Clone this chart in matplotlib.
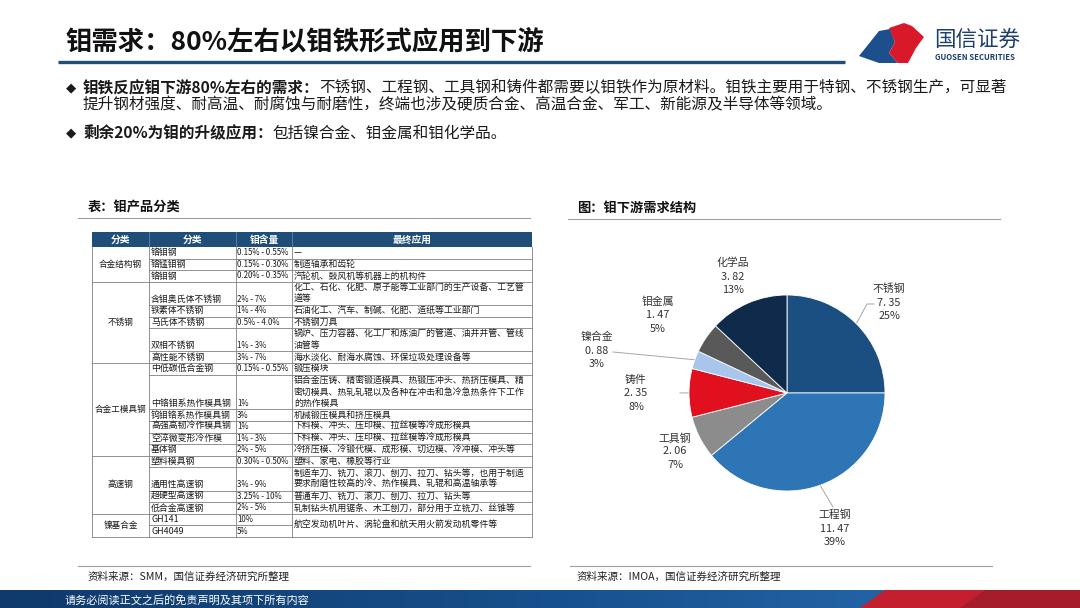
import matplotlib.pyplot as plt
import numpy as np
from matplotlib.patches import Rectangle, Polygon
from matplotlib.colors import LinearSegmentedColormap

plt.rcParams['font.family'] = ['Noto Sans CJK SC', 'DejaVu Sans']

# ---- data ----
title = "钼需求：80%左右以钼铁形式应用到下游"
bullet1_bold = "钼铁反应钼下游80%左右的需求："
bullet1_line1 = "不锈钢、工程钢、工具钢和铸件都需要以钼铁作为原材料。钼铁主要用于特钢、不锈钢生产，可显著"
bullet1_line2 = "提升钢材强度、耐高温、耐腐蚀与耐磨性，终端也涉及硬质合金、高温合金、军工、新能源及半导体等领域。"
bullet2_bold = "剩余20%为钼的升级应用："
bullet2_text = "包括镍合金、钼金属和钼化学品。"

header = ["分类", "分类", "钼含量", "最终应用"]
groups = ["合金结构钢", "不锈钢", "合金工模具钢", "高速钢", "镍基合金"]
group_sizes = [3, 5, 6, 4, 2]
products = ["铬钼钢", "铬锰钼钢", "铬钼钢",
            "含钼奥氏体不锈钢", "铁素体不锈钢", "马氏体不锈钢", "双相不锈钢", "高性能不锈钢",
            "中低碳低合金钢", "中铬钼系热作模具钢", "钨钼铬系热作模具钢", "高强高韧冷作模具钢", "空淬微变形冷作模", "基体钢",
            "塑料模具钢", "通用性高速钢", "超硬型高速钢", "低合金高速钢",
            "GH141", "GH4049"]
mo_content = ["0.15% - 0.55%", "0.15% - 0.30%", "0.20% - 0.35%",
              "2% - 7%", "1% - 4%", "0.5% - 4.0%", "1% - 3%", "3% - 7%",
              "0.15% - 0.55%", "1%", "3%", "1%", "1% - 3%", "2% - 5%",
              "0.30% - 0.50%", "3% - 9%", "3.25% - 10%", "2% - 5%",
              "10%", "5%"]
applications = ["—", "制造轴承和齿轮", "汽轮机、鼓风机等机器上的机构件",
                "化工、石化、化肥、原子能等工业部门的生产设备、工艺管\n道等",
                "石油化工、汽车、制碱、化肥、造纸等工业部门",
                "不锈钢刀具",
                "锅炉、压力容器、化工厂和炼油厂的管道、油井井管、管线\n油管等",
                "海水淡化、耐海水腐蚀、环保垃圾处理设备等",
                "锻压模块",
                "铝合金压铸、精密锻造模具、热锻压冲头、热挤压模具、精\n密切模具、热轧轧辊以及各种在冲击和急冷急热条件下工作\n的热作模具",
                "机械锻压模具和挤压模具",
                "下料模、冲头、压印模、拉丝模等冷成形模具",
                "下料模、冲头、压印模、拉丝模等冷成形模具",
                "冷挤压模、冷锻代模、成形模、切边模、冷冲模、冲头等",
                "塑料、家电、橡胶等行业",
                "制造车刀、铣刀、滚刀、刨刀、拉刀、钻头等，也用于制造\n要求耐磨性较高的冷、热作模具、轧辊和高温轴承等",
                "普通车刀、铣刀、滚刀、刨刀、拉刀、钻头等",
                "轧制钻头机用锯条、木工刨刀，部分用于立铣刀、丝锥等"]
merged_application = "航空发动机叶片、涡轮盘和航天用火箭发动机零件等"

pie_names = ["不锈钢", "工程钢", "工具钢", "铸件", "镍合金", "钼金属", "化学品"]
pie_values = [7.35, 11.47, 2.06, 2.35, 0.88, 1.47, 3.82]
pie_colors = ["#1b4f82", "#2e75b6", "#8c8c8c", "#e0101e", "#a8c6ec", "#595959", "#0f2a4a"]

# ---- canvas in pixel coordinates ----
W, H = 1080, 608
fig = plt.figure(figsize=(10.8, 6.08), dpi=100)
ax = fig.add_axes([0, 0, 1, 1])
ax.set_xlim(0, W)
ax.set_ylim(H, 0)
ax.axis('off')
rend = fig.canvas.get_renderer()

# title + logo
ax.text(65, 42, title, fontsize=19, fontweight='bold', color='#111111', va='center', ha='left')
ax.plot([58, 845], [62, 62], color='#1f4e79', lw=2.4, solid_capstyle='butt')
ax.add_patch(Polygon([(859, 56), (879, 31), (890, 29), (895, 42), (889, 53), (898, 63), (879, 63)],
                     closed=True, color='#1d4f8c', lw=0))
ax.add_patch(Polygon([(889, 28), (904, 23), (912, 26), (924, 37), (916, 48), (908, 63), (898, 63),
                      (889, 53), (895, 42)], closed=True, color='#d7192a', lw=0))
ax.text(934, 40, "国信证券", fontsize=15.5, color='#1d3f6e', va='center', ha='left')
ax.text(935, 57, "GUOSEN SECURITIES", fontsize=5.6, fontweight='bold', color='#1d3f6e', va='center', ha='left')


def rich(x, y, parts, size):
    for txt, weight in parts:
        t = ax.text(x, y, txt, fontsize=size, fontweight=weight, color='#1a1a1a', va='center', ha='left')
        x += t.get_window_extent(renderer=rend).width


# bullets
bfs = 11.25
ax.text(71, 88, "◆", fontsize=9.5, color='#1a1a1a', va='center', ha='center', family='DejaVu Sans')
rich(83, 88, [(bullet1_bold, 'bold'), (bullet1_line1, 'normal')], bfs)
ax.text(83, 105, bullet1_line2, fontsize=bfs, color='#1a1a1a', va='center', ha='left')
ax.text(71, 133, "◆", fontsize=9.5, color='#1a1a1a', va='center', ha='center', family='DejaVu Sans')
rich(83, 133, [(bullet2_bold, 'bold'), (bullet2_text, 'normal')], bfs)

# section headings
ax.text(88, 207, "表：钼产品分类", fontsize=9.5, fontweight='bold', color='#111111', va='center')
ax.plot([78, 530], [218, 218], color='#a0a0a0', lw=0.8)
ax.text(577, 208, "图：钼下游需求结构", fontsize=9.5, fontweight='bold', color='#111111', va='center')
ax.plot([568, 1000], [219, 219], color='#a0a0a0', lw=0.8)

# ---- table ----
cols = [92, 149, 236, 292, 532]
top, hdr_bot, bot = 232, 247, 537
fs = 6.4
tc = '#1a1a1a'
ax.add_patch(Rectangle((cols[0], top), cols[-1] - cols[0], hdr_bot - top, color='#1f4e79', lw=0))
for i, h in enumerate(header):
    ax.text((cols[i] + cols[i + 1]) / 2, (top + hdr_bot) / 2, h, fontsize=7, fontweight='bold',
            color='white', va='center', ha='center')
for c in cols[1:-1]:
    ax.plot([c, c], [top, hdr_bot], color='#6f8fb5', lw=0.5)

nlines = [a.count("\n") + 1 for a in applications] + [1, 1]
unit = (bot - hdr_bot) / sum(nlines)
edges = hdr_bot + unit * np.concatenate([[0], np.cumsum(nlines)])
gc = '#808080'
for c in cols:
    ax.plot([c, c], [hdr_bot, bot], color=gc, lw=0.6)

group_starts = np.concatenate([[0], np.cumsum(group_sizes)])
for r in range(len(products)):
    y0, y1 = edges[r], edges[r + 1]
    ax.text(cols[1] + 2, y1 - unit / 2, products[r], fontsize=fs, color=tc, va='center', ha='left')
    ax.text(cols[2] + 1, y1 - unit / 2, mo_content[r], fontsize=5.7, color=tc, va='center', ha='left')
    if r < len(applications):
        for k, line in enumerate(applications[r].split("\n")):
            ax.text(cols[3] + 2, y0 + unit * (k + 0.5), line, fontsize=fs, color=tc,
                    va='center', ha='left')
    # row separator
    if r + 1 in group_starts:
        ax.plot([cols[0], cols[-1]], [y1, y1], color=gc, lw=0.6)
    elif r == len(products) - 2:
        ax.plot([cols[1], cols[3]], [y1, y1], color=gc, lw=0.6)
    else:
        ax.plot([cols[1], cols[-1]], [y1, y1], color=gc, lw=0.6)

for g, name in enumerate(groups):
    ya, yb = edges[group_starts[g]], edges[group_starts[g + 1]]
    ax.text((cols[0] + cols[1]) / 2, (ya + yb) / 2, name, fontsize=6.2, color=tc,
            va='center', ha='center')
ax.text(cols[3] + 2, (edges[-3] + edges[-1]) / 2, merged_application, fontsize=fs, color=tc,
        va='center', ha='left')

# ---- pie ----
cx, cy, R = 787, 393, 98
side = 2 * R * 1.25
pax = fig.add_axes([(cx - side / 2) / W, (H - cy - side / 2) / H, side / W, side / H])
pax.pie(pie_values, colors=pie_colors, startangle=90, counterclock=False,
        wedgeprops=dict(edgecolor='white', linewidth=0.6))
pax.set_xlim(-1.25, 1.25)
pax.set_ylim(-1.25, 1.25)
pax.axis('off')

total = sum(pie_values)
label_pos = {"不锈钢": (889, 289), "工程钢": (835, 515), "工具钢": (675, 438), "铸件": (636, 380),
             "镍合金": (597, 337), "钼金属": (658, 302), "化学品": (733, 263)}
leaders = {"不锈钢": [(867, 304), (874, 304)], "工程钢": [(833, 507)], "铸件": [(680, 393)],
           "镍合金": [(613, 352)]}
cum = 0
for name, v in zip(pie_names, pie_values):
    mid = 90 - (cum + v / 2) / total * 360
    cum += v
    lx, ly = label_pos[name]
    for k, s in enumerate([name, f"{v:.2f}".replace(".", ". "), f"{round(v / total * 100):.0f}%"]):
        ax.text(lx, ly + k * 13.5, s, fontsize=7.8, color='#333333', va='center', ha='center')
    if name in leaders:
        ex = cx + R * np.cos(np.radians(mid))
        ey = cy - R * np.sin(np.radians(mid))
        pts = [(ex, ey)] + leaders[name]
        ax.plot([p[0] for p in pts], [p[1] for p in pts], color='#a6a6a6', lw=0.7)

# ---- sources ----
ax.plot([78, 530], [566, 566], color='#a0a0a0', lw=0.8)
ax.plot([570, 992], [566, 566], color='#a0a0a0', lw=0.8)
ax.text(88, 577, "资料来源：SMM，国信证券经济研究所整理", fontsize=7.6, color='#222222', va='center')
ax.text(577, 577, "资料来源：IMOA，国信证券经济研究所整理", fontsize=7.6, color='#222222', va='center')

# ---- footer bar ----
grad = np.linspace(0, 1, 256).reshape(1, -1)
cmap = LinearSegmentedColormap.from_list('bar', ['#0f3a6a', '#17508c', '#2a6db3'])
ax.imshow(grad, cmap=cmap, extent=[0, W, H, 590], aspect='auto', zorder=0)
ax.add_patch(Polygon([(860, H), (885, 590), (W, 590), (W, H)], closed=True, color='#c41f2e', lw=0))
ax.add_patch(Polygon([(960, H), (985, 590), (W, 590), (W, H)], closed=True, color='#a51c2a', lw=0))
ax.set_xlim(0, W)
ax.set_ylim(H, 0)
ax.text(65, 600, "请务必阅读正文之后的免责声明及其项下所有内容", fontsize=8, color='white', va='center')

fig.savefig("out.png", dpi=100)
